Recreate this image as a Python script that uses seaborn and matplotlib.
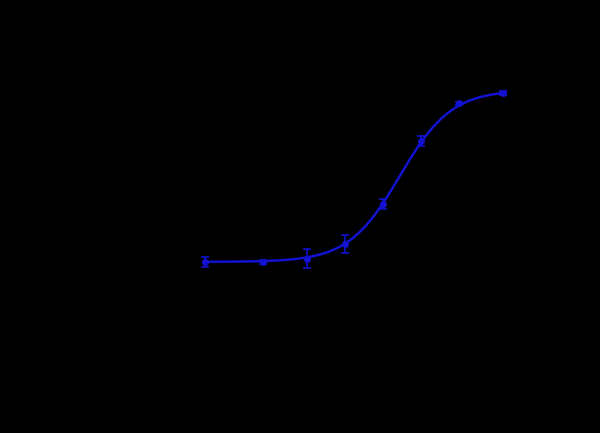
import numpy as np
import pandas as pd
import seaborn as sns
from matplotlib import pyplot as plt

# concentrations (log spaced) and mean signal
conc = [0.12, 0.7, 2.6, 8.3, 26.4, 83, 264, 1000]
signal = [0.85, 0.85, 0.89, 1.075, 1.575, 2.36, 2.83, 2.96]
sd = [0.06, 0.02, 0.12, 0.11, 0.06, 0.06, 0.02, 0.02]

# 4PL fit parameters estimated from the curve
bottom = 0.85
top = 3.0
ec50 = 44
hill = 1.28

sns.set_style('white')
plt.rcParams['font.family'] = ['DejaVu Sans']

fig = plt.figure(figsize=(6, 4.33), dpi=100, facecolor='black')
ax = fig.add_axes([0.25, 0.238, 0.65, 0.647])
ax.set_facecolor('black')

xs = np.logspace(np.log10(conc[0]), np.log10(conc[-1]), 300)
fit = pd.DataFrame({'x': xs, 'y': bottom + (top - bottom) / (1 + (ec50 / xs) ** hill)})
sns.lineplot(data=fit, x='x', y='y', color='#1212d0', linewidth=1.8, ax=ax)

ax.errorbar(conc, signal, yerr=sd, fmt='o', color='#1212d0', markersize=4,
            capsize=3, elinewidth=1.2, capthick=1.2)

ax.set_xscale('log')
ax.set_xlim(0.02265, 3069)
ax.set_ylim(0, 3.5)

# axes and text are black, as in the reference
for s in ax.spines.values():
    s.set_color('black')
ax.tick_params(colors='black')
ax.set_xlabel('Concentration', color='black')
ax.set_ylabel('OD', color='black')

fig.savefig('out.png', dpi=100, facecolor='black')
